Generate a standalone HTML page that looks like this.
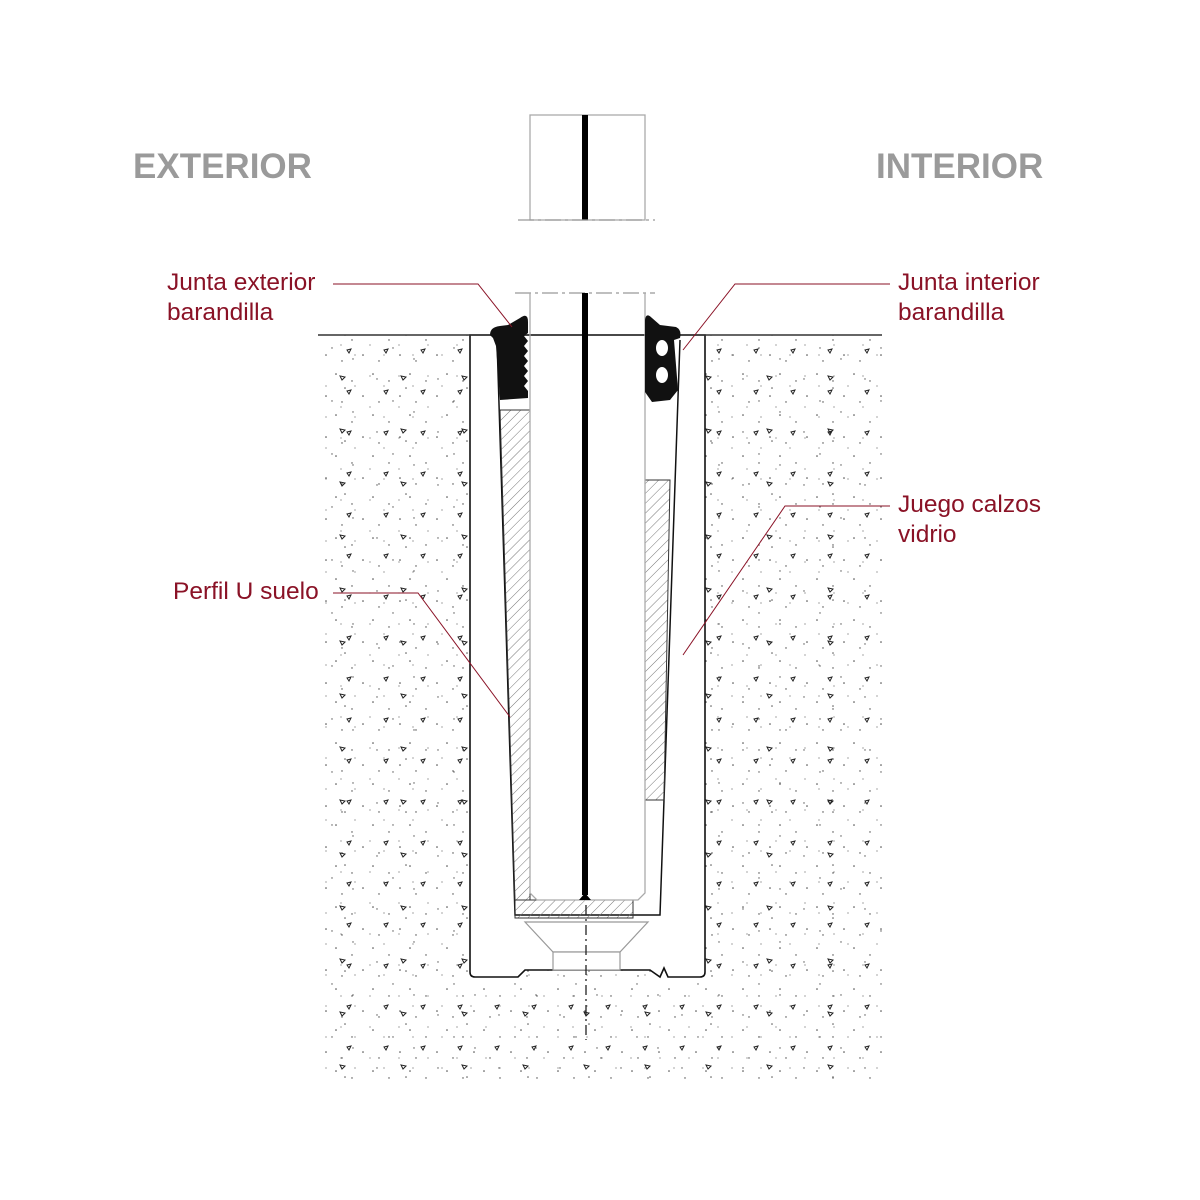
<!DOCTYPE html>
<html><head><meta charset="utf-8"><style>
html,body{margin:0;padding:0;background:#fff;}
svg{display:block}
.t{font-family:"Liberation Sans",sans-serif;fill:#8a1226;font-size:24.5px}
.h{font-family:"Liberation Sans",sans-serif;fill:#9a9a9a;font-size:35px;font-weight:bold}
</style></head><body>
<svg width="1200" height="1200" viewBox="0 0 1200 1200" xmlns="http://www.w3.org/2000/svg">
<defs>
<pattern id="d1" width="37" height="41" patternUnits="userSpaceOnUse">
<circle cx="3" cy="5" r="0.8" fill="#444"/><circle cx="19" cy="12" r="0.7" fill="#444"/><circle cx="30" cy="27" r="0.8" fill="#444"/><circle cx="9" cy="33" r="0.7" fill="#444"/>
<path d="M14 22 l4 -1 l-2 4z" fill="none" stroke="#222" stroke-width="1"/>
</pattern>
<pattern id="d2" width="61" height="53" patternUnits="userSpaceOnUse">
<circle cx="11" cy="8" r="0.7" fill="#555"/><circle cx="40" cy="17" r="0.8" fill="#555"/><circle cx="27" cy="30" r="0.7" fill="#555"/><circle cx="48" cy="41" r="0.7" fill="#555"/>
<path d="M35 5 l5 1 l-3 3z" fill="none" stroke="#222" stroke-width="1"/>
</pattern>
<pattern id="d3" width="29" height="31" patternUnits="userSpaceOnUse">
<circle cx="7" cy="14" r="0.6" fill="#666"/><circle cx="22" cy="4" r="0.6" fill="#666"/>
</pattern>
<pattern id="hat" width="7" height="7" patternUnits="userSpaceOnUse" patternTransform="rotate(45)">
<line x1="0" y1="0" x2="0" y2="7" stroke="#777" stroke-width="1"/>
</pattern>
</defs>

<rect x="318" y="335" width="564" height="750" fill="url(#d1)"/>
<rect x="318" y="335" width="564" height="750" fill="url(#d2)"/>
<rect x="318" y="335" width="564" height="750" fill="url(#d3)"/>
<path d="M470 335 L705 335 L705 972 Q705 977 700 977 L668 977 L664 968 L660 977 L650 970 L525 970 L518 977 L475 977 Q470 977 470 972 Z" fill="#fff" stroke="#111" stroke-width="1.6"/>
<line x1="318" y1="335" x2="882" y2="335" stroke="#333" stroke-width="1.5"/>

<rect x="530" y="115" width="115" height="105" fill="#fff" stroke="#aaa" stroke-width="1.3"/>
<rect x="582" y="115" width="6" height="105" fill="#000"/>
<line x1="518" y1="220" x2="655" y2="220" stroke="#999" stroke-width="1.3" stroke-dasharray="16,4,3,4"/>
<line x1="515" y1="293" x2="655" y2="293" stroke="#999" stroke-width="1.3" stroke-dasharray="16,4,3,4"/>

<path d="M497 340 L515 915 L660 915 L680 340" fill="none" stroke="#111" stroke-width="1.5"/>
<path d="M500 410 L530 410 L530 900 L515 900 Z" fill="url(#hat)" stroke="#333" stroke-width="1"/>
<rect x="515" y="900" width="118" height="18" fill="url(#hat)" stroke="#333" stroke-width="1"/>
<path d="M645 480 L670 480 L664 800 L645 800 Z" fill="url(#hat)" stroke="#333" stroke-width="1"/>
<path d="M530 293 L530 893 L537 900 L638 900 L645 893 L645 293" fill="none" stroke="#aaa" stroke-width="1.3"/>
<rect x="582" y="293" width="6" height="602" fill="#000"/>
<path d="M579 900 L585 893 L591 900 Z" fill="#000"/>
<path d="M525 922 L648 922 L620 952 L553 952 Z" fill="#fff" stroke="#999" stroke-width="1.2"/>
<rect x="553" y="952" width="67" height="18" fill="#fff" stroke="#999" stroke-width="1.2"/>
<line x1="586" y1="905" x2="586" y2="1040" stroke="#222" stroke-width="1.3" stroke-dasharray="10,4,2,4"/>

<path d="M490 335 Q490 327 500 326 L508 325 L520 318 Q528 312 528 322 L528 333 L524 336 L528 341 L524 346 L528 351 L524 356 L528 361 L524 366 L528 371 L524 376 L528 381 L524 386 L528 391 L528 398 L500 400 L496 346 L493 338 Z" fill="#111"/>
<path d="M645 320 Q646 312 652 318 L660 325 L676 327 Q682 330 680 338 L674 340 L678 390 L670 400 L652 402 L645 392 L645 320 Z" fill="#111"/>
<ellipse cx="662" cy="348" rx="6" ry="8" fill="#fff"/>
<ellipse cx="662" cy="375" rx="6" ry="8" fill="#fff"/>

<g stroke="#8a1226" stroke-width="1" fill="none">
<polyline points="333,284 478,284 512,327"/>
<polyline points="890,284 735,284 683,350"/>
<polyline points="890,506 785,506 683,655"/>
<polyline points="333,593 418,593 510,717"/>
</g>

<text class="h" x="133" y="178">EXTERIOR</text>
<text class="h" x="876" y="178">INTERIOR</text>
<text class="t" x="167" y="290">Junta exterior</text>
<text class="t" x="167" y="320">barandilla</text>
<text class="t" x="898" y="290">Junta interior</text>
<text class="t" x="898" y="320">barandilla</text>
<text class="t" x="898" y="512">Juego calzos</text>
<text class="t" x="898" y="542">vidrio</text>
<text class="t" x="173" y="599">Perfil U suelo</text>
</svg>
</body></html>
